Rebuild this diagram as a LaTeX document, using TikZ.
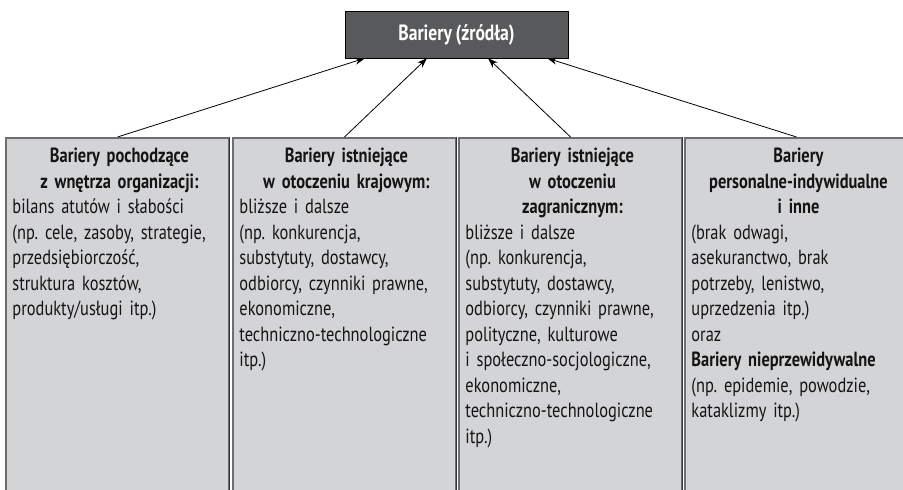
\documentclass[tikz,border=0pt]{standalone}
\usepackage{fontspec}
\setmainfont{PT Sans}[FakeStretch=0.8, WordSpace=0.8]
\usetikzlibrary{positioning, calc, arrows.meta}

\definecolor{srcfill}{HTML}{58595B}
\definecolor{barfill}{HTML}{D3D4D6}
\definecolor{barline}{HTML}{6D6E70}

\tikzset{
  srcbox/.style={draw=black, fill=srcfill, text=white, inner sep=0,
    minimum width=223, minimum height=47, font=\bfseries\fontsize{22}{26}\selectfont},
  barbox/.style={draw=barline, line width=1.5pt, fill=barfill, anchor=north,
    minimum width=223, minimum height=420, inner sep=0},
  barshade/.style={draw=black!80, line width=1.3pt},
  bartext/.style={text width=214, align=left, inner sep=0, text=black!92,
    font=\frenchspacing\fontsize{20.5}{25.5}\selectfont},
  arr/.style={-{Stealth[length=10pt, width=7pt]}, line width=0.8pt}
}

\begin{document}
\begin{tikzpicture}[x=1pt, y=-1pt]
    \useasboundingbox (0,0) rectangle (903,490);
    \clip (0,0) rectangle (903,490);

    \node[srcbox] (src) at (456.5,34.5) {Bariery (źródła)};

    \node[barbox] (b1) at (117.5,137) {};
    \node[barbox] (b2) at (344.5,137) {};
    \node[barbox] (b3) at (570.5,137) {};
    \node[barbox] (b4) at (796.5,137) {};
    \foreach \b in {b1,b2,b3,b4}
        \draw[barshade] (\b.north east) -- (\b.south east);

    \node[bartext, below right=11pt and 7pt of b1.north west] (t1) {%
        {\centering\bfseries Bariery pochodzące\\ z wnętrza organizacji:\par}
        bilans atutów i słabości\\
        (np. cele, zasoby, strategie,\\
        przedsiębiorczość,\\
        struktura kosztów,\\
        produkty/usługi itp.)};
    \node[bartext, below right=11pt and 7pt of b2.north west] (t2) {%
        {\centering\bfseries Bariery istniejące\\ w otoczeniu krajowym:\par}
        bliższe i dalsze\\
        (np. konkurencja,\\
        substytuty, dostawcy,\\
        odbiorcy, czynniki prawne,\\
        ekonomiczne,\\
        techniczno-technologiczne\\
        itp.)};
    \node[bartext, below right=11pt and 7pt of b3.north west] (t3) {%
        {\centering\bfseries Bariery istniejące\\ w otoczeniu\\ zagranicznym:\par}
        bliższe i dalsze\\
        (np. konkurencja,\\
        substytuty, dostawcy,\\
        odbiorcy, czynniki prawne,\\
        polityczne, kulturowe\\
        i społeczno-socjologiczne,\\
        ekonomiczne,\\
        techniczno-technologiczne\\
        itp.)};
    \node[bartext, below right=11pt and 7pt of b4.north west] (t4) {%
        {\centering\bfseries Bariery\\ personalne-indywidualne\\ i inne\par}
        (brak odwagi,\\
        asekuranctwo, brak\\
        potrzeby, lenistwo,\\
        uprzedzenia itp.)\\
        oraz\\
        \textbf{Bariery nieprzewidywalne}\\
        (np. epidemie, powodzie,\\
        kataklizmy itp.)};

    % strzalki do zrodla
    \draw[arr] (b1.north) -- ($(src.south west)!0.09!(src.south east)$);
    \draw[arr] (b2.north) -- ($(src.south west)!0.368!(src.south east)$);
    \draw[arr] (b3.north) -- ($(src.south west)!0.641!(src.south east)$);
    \draw[arr] (b4.north) -- ($(src.south west)!0.906!(src.south east)$);
\end{tikzpicture}
\end{document}
